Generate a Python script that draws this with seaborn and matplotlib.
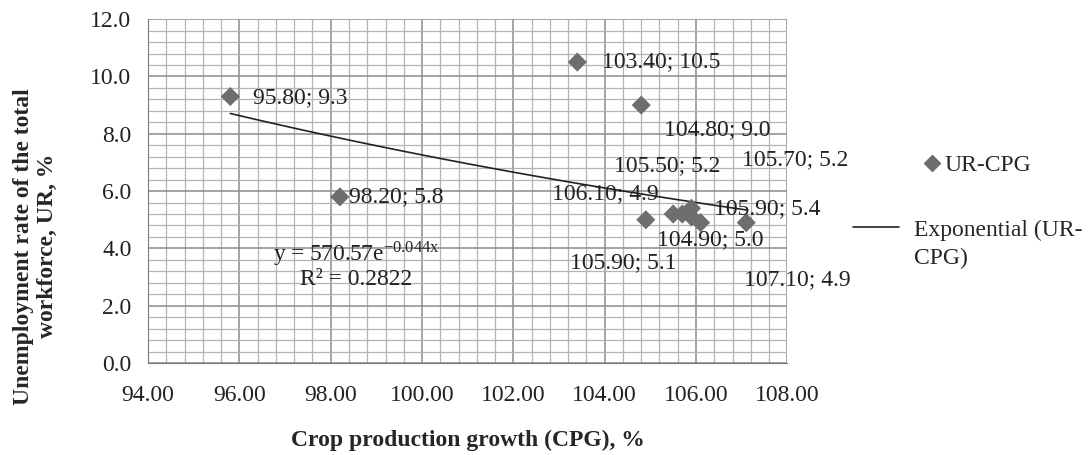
# UR vs CPG scatter with exponential trendline (Excel-style chart)
import numpy as np
import pandas as pd
import matplotlib
matplotlib.use('Agg')
import matplotlib.pyplot as plt
from matplotlib.lines import Line2D
from matplotlib.ticker import MultipleLocator, FormatStrFormatter
import seaborn as sns

cpg = [95.80, 98.20, 103.40, 104.80, 105.50, 105.70, 106.10, 105.90, 104.90, 105.90, 107.10]
ur = [9.3, 5.8, 10.5, 9.0, 5.2, 5.2, 4.9, 5.4, 5.0, 5.1, 4.9]
labels = ['95.80; 9.3', '98.20; 5.8', '103.40; 10.5', '104.80; 9.0', '105.50; 5.2',
          '105.70; 5.2', '106.10; 4.9', '105.90; 5.4', '104.90; 5.0', '105.90; 5.1', '107.10; 4.9']
# where the (dragged) data labels sit, in data units
label_pos = [(96.3, 9.25), (98.4, 5.8), (103.95, 10.5), (105.3, 8.15), (104.2, 6.9),
             (107.0, 7.08), (102.85, 5.9), (106.4, 5.4), (105.15, 4.3), (103.25, 3.5), (107.05, 2.9)]

df = pd.DataFrame({'CPG': cpg, 'UR': ur})

sns.set_style('white')
plt.rcParams['font.family'] = ['Liberation Serif', 'DejaVu Serif']
plt.rcParams['mathtext.fontset'] = 'stix'

fig = plt.figure(figsize=(10.89, 4.55), dpi=100)
ax = fig.add_axes([0.136, 0.202, 0.587, 0.756])

# gridlines first
ax.set_xlim(94, 108)
ax.set_ylim(0, 12)
ax.xaxis.set_major_locator(MultipleLocator(2))
ax.xaxis.set_minor_locator(MultipleLocator(0.4))
ax.yaxis.set_major_locator(MultipleLocator(2))
ax.yaxis.set_minor_locator(MultipleLocator(0.4))
ax.xaxis.set_major_formatter(FormatStrFormatter('%.2f'))
ax.yaxis.set_major_formatter(FormatStrFormatter('%.1f'))
ax.grid(which='major', color='#8c8c8c', lw=1.1)
ax.grid(which='minor', color='#b4b4b4', lw=0.9)
ax.set_axisbelow(True)

sns.scatterplot(data=df, x='CPG', y='UR', marker='D', s=95, color='#6e6e6e',
                edgecolor='none', ax=ax, zorder=3)

# exponential trendline fitted on the data
b, ln_a = np.polyfit(df['CPG'], np.log(df['UR']), 1)
xs = np.linspace(min(cpg), max(cpg), 50)
ax.plot(xs, np.exp(ln_a) * np.exp(b * xs), color='#222222', lw=1.2, zorder=2)

for lab, (lx, ly) in zip(labels, label_pos):
    ax.text(lx, ly, lab, fontsize=17, va='center', ha='left', color='#222222', zorder=4)

ax.text(98.55, 3.78, r'y = 570.57e$^{\mathregular{-0.044x}}$', fontsize=17, ha='center', va='center', color='#222222')
ax.text(98.55, 2.9, 'R² = 0.2822', fontsize=17, ha='center', va='center', color='#222222')

for side in ['top', 'right']:
    ax.spines[side].set_visible(False)
for side in ['left', 'bottom']:
    ax.spines[side].set_color('#7a7a7a')
ax.tick_params(which='major', direction='out', length=7, color='#7a7a7a',
               labelsize=17, labelcolor='#222222', pad=5)
ax.tick_params(axis='x', which='major', pad=9)
ax.tick_params(which='minor', length=0)

ax.set_xlabel('Crop production growth (CPG), %', fontsize=17, fontweight='bold', labelpad=17)
ax.set_ylabel('Unemployment rate of the total\nworkforce, UR, %', fontsize=17, fontweight='bold')
ax.yaxis.set_label_coords(-0.141, 0.34)

h1 = Line2D([], [], marker='D', ls='none', color='#6e6e6e', markersize=8.5)
h2 = Line2D([], [], color='#222222', lw=1.2)
fig.legend([h1], ['UR-CPG'], loc='center left', bbox_to_anchor=(0.83, 0.637), frameon=False,
           fontsize=17, handlelength=0.6, handletextpad=0.2)
leg2 = fig.legend([h2], ['Exponential (UR-'], loc='center left', bbox_to_anchor=(0.764, 0.495),
                  frameon=False, fontsize=17, handlelength=1.95, handletextpad=0.64)
fig.canvas.draw()
tb = leg2.get_texts()[0].get_window_extent()
fig.text(tb.x0 / fig.bbox.width, 1 - 258 / 455, 'CPG)', fontsize=17, ha='left', va='center',
         color='#222222')

fig.savefig('out.png', dpi=100)
